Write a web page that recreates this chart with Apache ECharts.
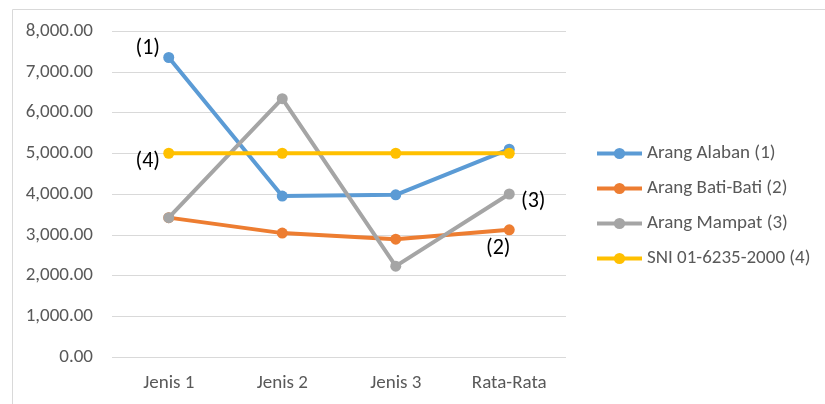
<!DOCTYPE html>
<html>
<head>
<meta charset="utf-8">
<script src="https://cdn.jsdelivr.net/npm/echarts@6/dist/echarts.min.js"></script>
<style>
  html, body { margin: 0; padding: 0; background: #fff; }
  #chart { width: 825px; height: 404px; }
</style>
</head>
<body>
<div id="chart"></div>
<script>
const categories = ['Jenis 1', 'Jenis 2', 'Jenis 3', 'Rata-Rata'];
const alaban = [7350, 3950, 3980, 5100];
const batiBati = [3420, 3040, 2890, 3120];
const mampat = [3420, 6340, 2230, 4000];
const sni = [5000, 5000, 5000, 5000];
const seriesNames = ['Arang Alaban (1)', 'Arang Bati-Bati (2)', 'Arang Mampat (3)', 'SNI 01-6235-2000 (4)'];
const colors = ['#5b9bd5', '#ed7d31', '#a5a5a5', '#ffc000'];

// point tags: [series index, category index, text, offset]
const tags = [
  [0, 0, '(1)', [-21, -9]],
  [3, 0, '(4)', [-21, 8]],
  [2, 3, '(3)', [24, 7]],
  [1, 3, '(2)', [-11, 19]]
];

const font = 'Carlito, Calibri, Lato, "Open Sans", sans-serif';

function buildData(values, si) {
  return values.map((v, ci) => {
    const t = tags.find(g => g[0] === si && g[1] === ci);
    if (!t) return v;
    return {
      value: v,
      label: {
        show: true, formatter: t[2], position: 'inside', offset: t[3],
        color: '#000', fontSize: 22, fontFamily: font
      }
    };
  });
}

const allValues = [alaban, batiBati, mampat, sni];
const order = [0, 1, 2, 3];

const chart = echarts.init(document.getElementById('chart'));
chart.setOption({
  animation: false,
  // chart frame: only its top and left edges fall inside the canvas
  graphic: [{
    type: 'rect', left: 10, top: 7,
    shape: { width: 830, height: 410 },
    style: { fill: 'none', stroke: '#d9d9d9', lineWidth: 1 },
    silent: true, z: -1
  }],
  grid: { left: 112, right: 259, top: 31, bottom: 47 },
  legend: {
    orient: 'vertical', left: 590, top: 139,
    itemGap: 16, itemWidth: 45, itemHeight: 14,
    lineStyle: { width: 4 },
    textStyle: { color: '#595959', fontSize: 19, fontFamily: font },
    data: seriesNames
  },
  xAxis: {
    type: 'category', data: categories, boundaryGap: true,
    axisLine: { show: false }, axisTick: { show: false },
    axisLabel: { color: '#595959', fontSize: 19, fontFamily: font, margin: 17 }
  },
  yAxis: {
    type: 'value', min: 0, max: 8000, interval: 1000,
    axisLine: { show: false }, axisTick: { show: false },
    splitLine: { lineStyle: { color: '#d9d9d9', width: 1 } },
    axisLabel: {
      color: '#595959', fontSize: 19, fontFamily: font, margin: 19,
      formatter: v => v.toLocaleString('en-US', { minimumFractionDigits: 2, maximumFractionDigits: 2 })
    }
  },
  series: order.map(i => ({
    name: seriesNames[i], type: 'line',
    data: buildData(allValues[i], i),
    color: colors[i],
    symbol: 'circle', symbolSize: 11,
    lineStyle: { width: 4, color: colors[i] },
    itemStyle: { color: colors[i] },
    z: 2 + i
  }))
});
</script>
</body>
</html>
